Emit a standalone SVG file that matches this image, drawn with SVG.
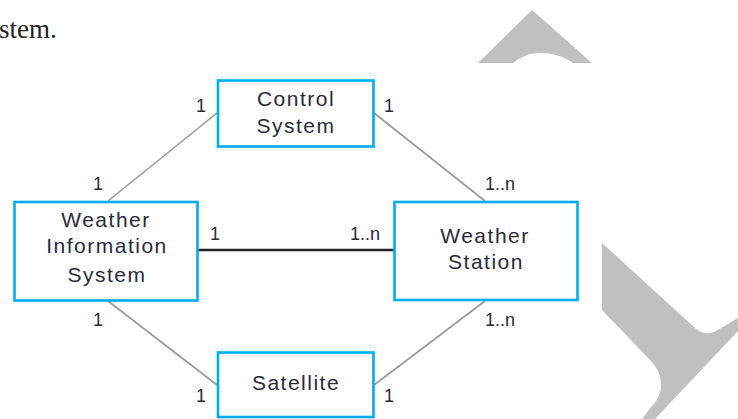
<svg xmlns="http://www.w3.org/2000/svg" width="738" height="419" viewBox="0 0 738 419">
<style>
.box{fill:#fff;stroke:#00aeef;stroke-width:2.6}
.nt{font-family:"Liberation Sans",Arial,sans-serif;font-size:21px;letter-spacing:1.5px;fill:#2a2a3a;text-anchor:middle}
.lb{font-family:"Liberation Sans",Arial,sans-serif;font-size:18px;fill:#2a2a3a}
.gl{stroke:#999;stroke-width:1.6;fill:none}
.bl{stroke:#222;stroke-width:2.6;fill:none}
.deco{fill:#c0c0c0}
</style>
<rect width="738" height="419" fill="#fff"/>
<g id="decoration">
<path class="deco" d="M478,63 L532,10 L592,63 L573,63 C563,56 552,53 540,53 C530,53 522,56 513,63 Z"/>
<path class="deco" d="M602,243 L695,328 Q705,337 716,331 L738,318 L738,331 L655,419 L642,419 L656,401 Q662,392 661,382 Q660,370 650,360 L602,310 Z"/>
</g>
<text x="-1" y="38" font-family="'Liberation Serif','Times New Roman',serif" font-size="27" fill="#222">stem.</text>
<g id="connectors">
<line class="gl" x1="217" y1="113" x2="108" y2="201"/>
<line class="gl" x1="374" y1="113" x2="485" y2="201"/>
<line class="gl" x1="108" y1="301" x2="217" y2="385"/>
<line class="gl" x1="485" y1="301" x2="374" y2="385"/>
<line class="bl" x1="198" y1="250" x2="395" y2="250"/>
</g>
<g id="control-system">
<rect class="box" x="218" y="80.5" width="155.5" height="66"/>
<text class="nt" x="296" y="106">Control</text>
<text class="nt" x="296" y="133">System</text>
</g>
<g id="weather-information-system">
<rect class="box" x="14.5" y="202" width="183" height="98.5"/>
<text class="nt" x="106" y="227">Weather</text>
<text class="nt" x="107" y="253">Information</text>
<text class="nt" x="107" y="282">System</text>
</g>
<g id="weather-station">
<rect class="box" x="394.5" y="202" width="183" height="98"/>
<text class="nt" x="485" y="243">Weather</text>
<text class="nt" x="486" y="269">Station</text>
</g>
<g id="satellite">
<rect class="box" x="218" y="352.5" width="155.5" height="64.5"/>
<text class="nt" x="296" y="390">Satellite</text>
</g>
<g id="labels">
<text class="lb" x="196" y="112">1</text>
<text class="lb" x="384" y="112">1</text>
<text class="lb" x="93" y="190">1</text>
<text class="lb" x="485" y="190">1..n</text>
<text class="lb" x="210" y="240">1</text>
<text class="lb" x="350" y="240">1..n</text>
<text class="lb" x="93" y="326">1</text>
<text class="lb" x="485" y="326">1..n</text>
<text class="lb" x="196" y="402">1</text>
<text class="lb" x="384" y="402">1</text>
</g>
</svg>
